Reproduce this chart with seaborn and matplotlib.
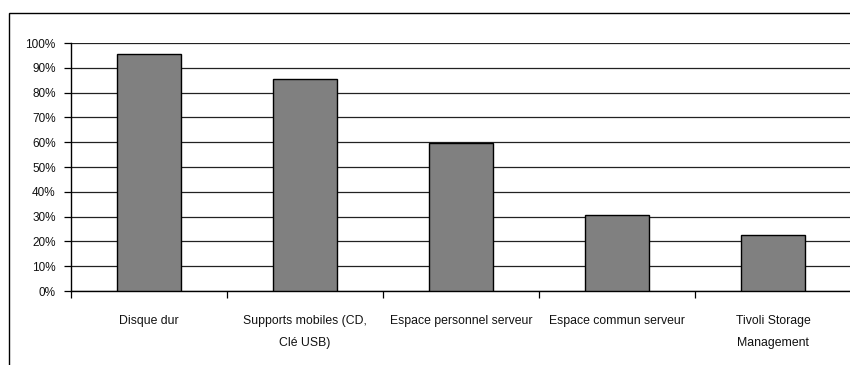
import matplotlib
matplotlib.use("Agg")
import matplotlib.pyplot as plt
import matplotlib.patches as mpatches
from matplotlib.ticker import FixedLocator, PercentFormatter
import seaborn as sns
import pandas as pd

categories = [
    "Disque dur",
    "Supports mobiles (CD,\nClé USB)",
    "Espace personnel serveur",
    "Espace commun serveur",
    "Tivoli Storage\nManagement",
]
shares = [0.957, 0.856, 0.596, 0.308, 0.226]
y_ticks = [0.0, 0.1, 0.2, 0.3, 0.4, 0.5, 0.6, 0.7, 0.8, 0.9, 1.0]

sns.set_theme(style="white")
plt.rcParams["font.family"] = ["Liberation Sans", "DejaVu Sans"]

W, H = 850, 365
fig = plt.figure(figsize=(W / 100, H / 100), dpi=100)
fig.patch.set_facecolor("white")

# outer chart frame (only left and top edges fall inside the canvas)
frame = mpatches.Rectangle((9 / W, -0.2), 1.2, (H - 13) / H + 0.2,
                           transform=fig.transFigure, fill=False,
                           edgecolor="black", linewidth=1.0)
fig.patches.append(frame)

ax = fig.add_axes([71 / W, (H - 291) / H, 780 / W, 248 / H])
df = pd.DataFrame({"cat": categories, "val": shares})
sns.barplot(data=df, x="cat", y="val", color="#808080", saturation=1,
            width=0.41, edgecolor="black", linewidth=1.0, ax=ax, zorder=3)

ax.set_xlim(-0.5, len(categories) - 0.5)
ax.set_ylim(0, 1.0)
ax.set_xlabel("")
ax.set_ylabel("")

ax.yaxis.set_major_locator(FixedLocator(y_ticks))
ax.yaxis.set_major_formatter(PercentFormatter(1.0, decimals=0))
ax.grid(axis="y", color="#222222", linewidth=0.9, zorder=0)
ax.set_axisbelow(True)

# category boundaries carry the tick marks; labels sit at centres
ax.xaxis.set_major_locator(FixedLocator([i - 0.5 for i in range(len(categories) + 1)]))
ax.xaxis.set_major_formatter(plt.NullFormatter())
ax.set_xticks(range(len(categories)), minor=True)
ax.set_xticklabels(categories, minor=True, fontsize=8.8, linespacing=2.1,
                   color="#111111")
ax.tick_params(axis="x", which="major", direction="out", length=5, width=0.9,
               color="black", bottom=True)
ax.tick_params(axis="x", which="minor", length=0, pad=17)
ax.tick_params(axis="y", which="major", direction="out", length=5, width=0.9,
               color="black", left=True, labelsize=8.5, pad=6, labelcolor="#111111")

for side in ("top", "right"):
    ax.spines[side].set_visible(False)
for side in ("left", "bottom"):
    ax.spines[side].set_color("black")
    ax.spines[side].set_linewidth(1.0)

fig.savefig("out.png", dpi=100, facecolor="white")
